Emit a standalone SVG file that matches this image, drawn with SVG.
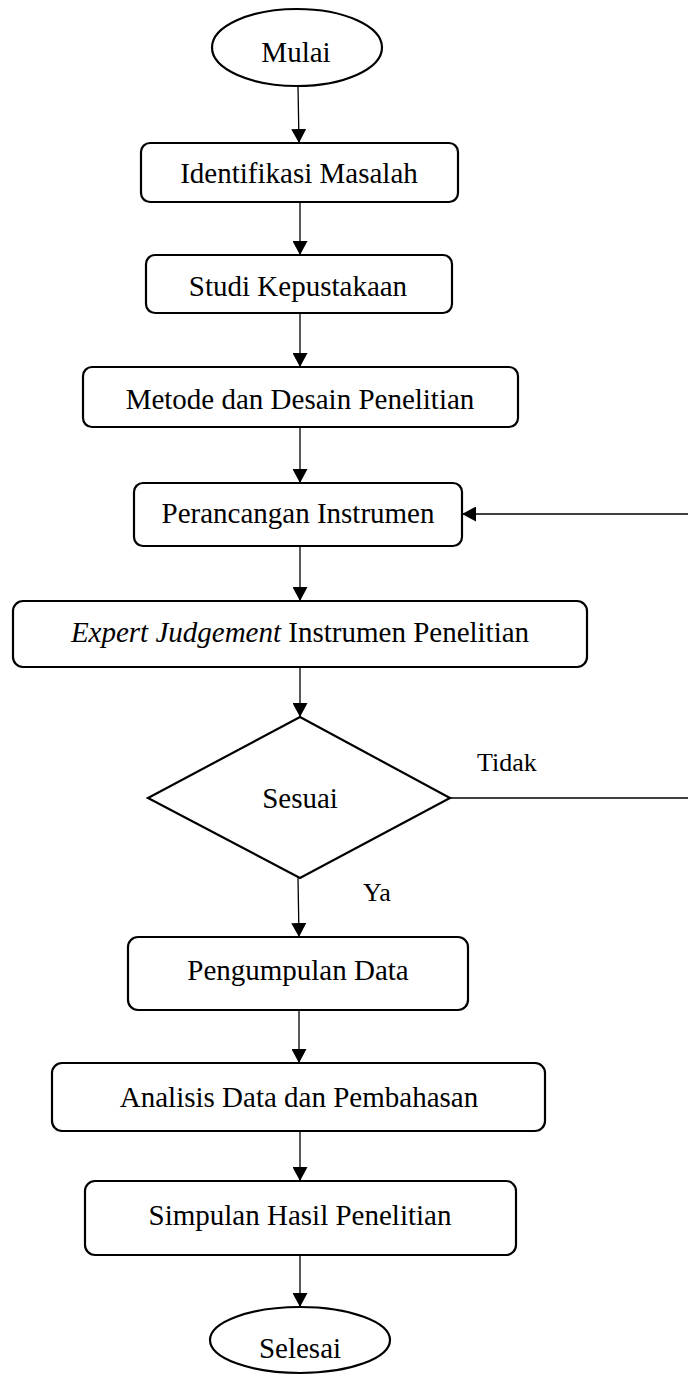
<svg xmlns="http://www.w3.org/2000/svg" width="688" height="1378" viewBox="0 0 688 1378">
<style>
.shape{fill:#fff;stroke:#000;stroke-width:2.2}
.t{font-family:"Liberation Serif","Times New Roman",serif;font-size:29px;fill:#000;text-anchor:middle}
.s{font-family:"Liberation Serif","Times New Roman",serif;font-size:26px;fill:#000}
.c{fill:none;stroke:#000;stroke-width:1.3}
</style>
<defs>
<marker id="ah" markerUnits="userSpaceOnUse" markerWidth="15" markerHeight="15" refX="14" refY="7.5" orient="auto">
<path d="M0,0 L14,7.5 L0,15 z" fill="#000"/>
</marker>
</defs>
<rect width="688" height="1378" fill="#fff"/>
<g id="connectors">
<line class="c" x1="298" y1="86" x2="299" y2="143" marker-end="url(#ah)"/>
<line class="c" x1="300" y1="202" x2="300" y2="255" marker-end="url(#ah)"/>
<line class="c" x1="300" y1="313" x2="300" y2="367" marker-end="url(#ah)"/>
<line class="c" x1="300" y1="427" x2="300" y2="483" marker-end="url(#ah)"/>
<line class="c" x1="300" y1="546" x2="300" y2="601" marker-end="url(#ah)"/>
<line class="c" x1="300" y1="667" x2="300" y2="717" marker-end="url(#ah)"/>
<polyline class="c" points="450,798 692,798 692,514 462,514" marker-end="url(#ah)"/>
<line class="c" x1="298" y1="878" x2="299" y2="937" marker-end="url(#ah)"/>
<line class="c" x1="299" y1="1010" x2="299" y2="1063" marker-end="url(#ah)"/>
<line class="c" x1="300" y1="1131" x2="300" y2="1181" marker-end="url(#ah)"/>
<line class="c" x1="300" y1="1255" x2="300" y2="1307" marker-end="url(#ah)"/>
<text class="s" x="477" y="771">Tidak</text>
<text class="s" x="363" y="901">Ya</text>
</g>
<g id="mulai">
<ellipse class="shape" cx="297" cy="47.5" rx="85" ry="38.5"/>
<text class="t" x="296" y="62">Mulai</text>
</g>
<g id="identifikasi">
<rect class="shape" x="141" y="143" width="317" height="59" rx="9"/>
<text class="t" x="299" y="183">Identifikasi Masalah</text>
</g>
<g id="studi">
<rect class="shape" x="146" y="255" width="306" height="58" rx="9"/>
<text class="t" x="298" y="296">Studi Kepustakaan</text>
</g>
<g id="metode">
<rect class="shape" x="83" y="367" width="435" height="60" rx="9"/>
<text class="t" x="300" y="409">Metode dan Desain Penelitian</text>
</g>
<g id="perancangan">
<rect class="shape" x="134" y="483" width="328" height="63" rx="9"/>
<text class="t" x="298" y="523">Perancangan Instrumen</text>
</g>
<g id="expert">
<rect class="shape" x="13" y="601" width="574" height="66" rx="10"/>
<text class="t" x="300" y="642"><tspan font-style="italic">Expert Judgement</tspan> Instrumen Penelitian</text>
</g>
<g id="sesuai">
<polygon class="shape" points="300,717 450,798 300,878 148,798"/>
<text class="t" x="300" y="808">Sesuai</text>
</g>
<g id="pengumpulan">
<rect class="shape" x="128" y="937" width="340" height="73" rx="10"/>
<text class="t" x="298" y="980">Pengumpulan Data</text>
</g>
<g id="analisis">
<rect class="shape" x="52" y="1063" width="493" height="68" rx="10"/>
<text class="t" x="299" y="1107">Analisis Data dan Pembahasan</text>
</g>
<g id="simpulan">
<rect class="shape" x="85" y="1181" width="431" height="74" rx="10"/>
<text class="t" x="300" y="1225">Simpulan Hasil Penelitian</text>
</g>
<g id="selesai">
<ellipse class="shape" cx="300" cy="1340" rx="90" ry="33"/>
<text class="t" x="300" y="1358">Selesai</text>
</g>
</svg>
